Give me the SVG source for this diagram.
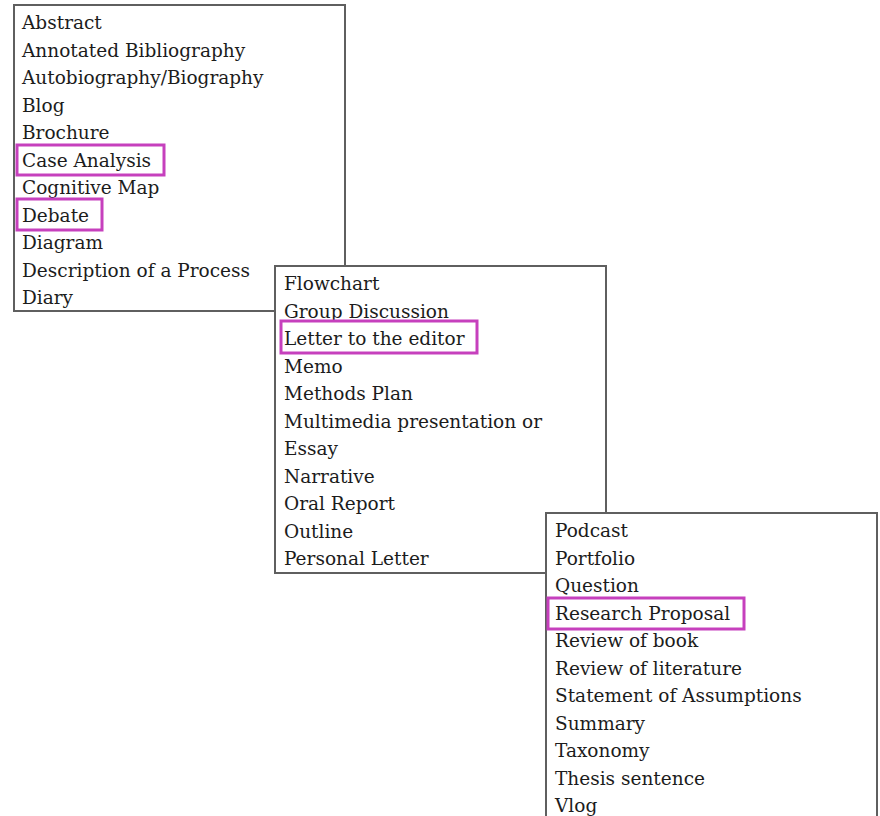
<svg xmlns="http://www.w3.org/2000/svg" width="880" height="816" viewBox="0 0 880 816">
<style>
.box{fill:#fff;stroke:#5f5f5f;stroke-width:2}
.hl{fill:none;stroke:#c640bd;stroke-width:3}
text{font-family:"DejaVu Serif","Liberation Serif",serif;font-size:18.5px;fill:#1c1c1c}
</style>
<rect width="880" height="816" fill="#fff"/>
<g id="list1">
<rect class="box" x="14" y="5" width="331" height="306"/>
<text x="22" y="29">Abstract</text>
<text x="22" y="56.5">Annotated Bibliography</text>
<text x="22" y="84">Autobiography/Biography</text>
<text x="22" y="111.5">Blog</text>
<text x="22" y="139">Brochure</text>
<text x="22" y="166.5">Case Analysis</text>
<text x="22" y="194">Cognitive Map</text>
<text x="22" y="221.5">Debate</text>
<text x="22" y="249">Diagram</text>
<text x="22" y="276.5">Description of a Process</text>
<text x="22" y="304">Diary</text>
<rect class="hl" x="17" y="145" width="147" height="30"/>
<rect class="hl" x="17" y="199" width="85" height="31"/>
</g>
<g id="list2">
<rect class="box" x="275" y="266" width="331" height="307"/>
<text x="284" y="290">Flowchart</text>
<text x="284" y="317.5">Group Discussion</text>
<text x="284" y="345">Letter to the editor</text>
<text x="284" y="372.5">Memo</text>
<text x="284" y="400">Methods Plan</text>
<text x="284" y="427.5">Multimedia presentation or</text>
<text x="284" y="455">Essay</text>
<text x="284" y="482.5">Narrative</text>
<text x="284" y="510">Oral Report</text>
<text x="284" y="537.5">Outline</text>
<text x="284" y="565">Personal Letter</text>
<rect class="hl" x="281" y="321" width="196" height="32"/>
</g>
<g id="list3">
<rect class="box" x="546" y="513" width="331" height="320"/>
<text x="555" y="537">Podcast</text>
<text x="555" y="564.5">Portfolio</text>
<text x="555" y="592">Question</text>
<text x="555" y="619.5">Research Proposal</text>
<text x="555" y="647">Review of book</text>
<text x="555" y="674.5">Review of literature</text>
<text x="555" y="702">Statement of Assumptions</text>
<text x="555" y="729.5">Summary</text>
<text x="555" y="757">Taxonomy</text>
<text x="555" y="784.5">Thesis sentence</text>
<text x="555" y="812">Vlog</text>
<rect class="hl" x="548" y="598" width="196" height="31"/>
</g>
<g id="connectors"></g>
</svg>
